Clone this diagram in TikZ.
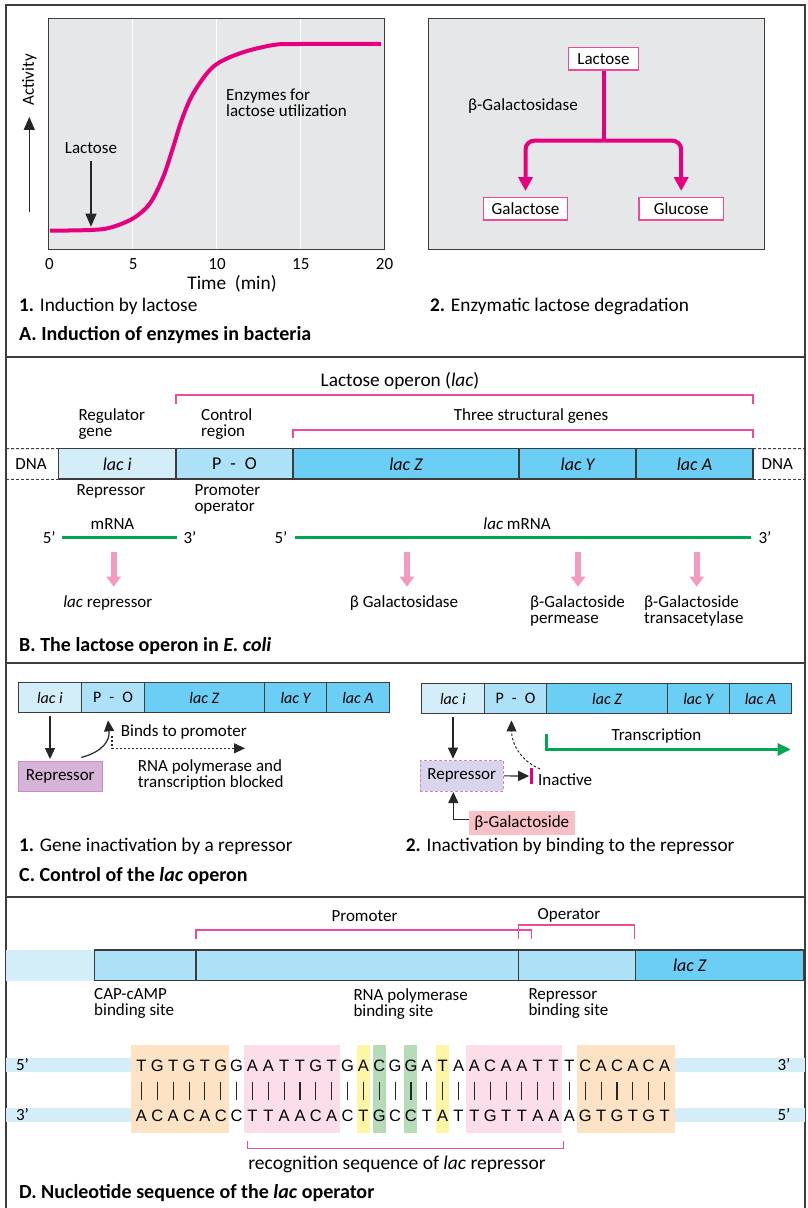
\documentclass[tikz,border=0pt]{standalone}
\usepackage{fontspec}
\setmainfont{Carlito}
\newfontfamily\seqfont{Liberation Sans}
\usetikzlibrary{positioning,calc,arrows.meta}

\definecolor{framegray}{HTML}{3C3C3C}
\definecolor{panelgray}{HTML}{E6E7E9}
\definecolor{lacmag}{HTML}{E6007E}
\definecolor{brkpink}{HTML}{EC4B9C}
\definecolor{geneI}{HTML}{D4EEF9}
\definecolor{genePO}{HTML}{ADE1F8}
\definecolor{geneS}{HTML}{6BCEF4}
\definecolor{rnagreen}{HTML}{00A651}
\definecolor{protpink}{HTML}{F49AC1}
\definecolor{repviolet}{HTML}{D5B4D7}
\definecolor{repedge}{HTML}{C88BC3}
\definecolor{replav}{HTML}{D8D4EC}
\definecolor{repdashc}{HTML}{D985B8}
\definecolor{galpink}{HTML}{F8C0C7}
\definecolor{hlorange}{HTML}{FDE3C4}
\definecolor{hlpink}{HTML}{FCDDEA}
\definecolor{hlyellow}{HTML}{FFF6A5}
\definecolor{hlgreen}{HTML}{B5DCB7}
\definecolor{bandblue}{HTML}{D4EEF9}

\newcommand\lblsize{\fontsize{17}{16}\selectfont}
\newcommand\capsize{\fontsize{19.3}{19}\selectfont}
% highlight behind the base pairs: colour, first, last, left pad, right pad
\newcommand\hlbox[5]{\fill[#1] ({141.5+15.85*(#2-1)-#4},1045) rectangle ({141.5+15.85*(#3-1)+#5},1132.7);}

\tikzset{
  lbl/.style={font=\lblsize, inner sep=1pt, align=left},
  capt/.style={font=\capsize, inner sep=0pt, anchor=west},
  head/.style={font=\fontsize{20}{20}\selectfont\bfseries, inner sep=0pt, anchor=west},
  gene/.style={draw=framegray, line width=1.2pt, outer sep=0pt, inner sep=0pt},
  geneB/.style={gene, minimum height=30.3pt, font=\fontsize{18}{18}\selectfont\itshape},
  geneC/.style={gene, minimum height=29.6pt, font=\fontsize{16}{16}\selectfont\itshape},
  geneD/.style={gene, fill=genePO, minimum height=30.7pt},
  sugar/.style={draw=brkpink, fill=white, line width=1.3pt, minimum height=22.3pt, inner sep=0pt, font=\lblsize},
  repbox/.style={draw=repedge, fill=repviolet, line width=1pt, minimum width=84pt, minimum height=30.7pt, inner sep=0pt, font=\lblsize},
  repdash/.style={repbox, draw=repdashc, fill=replav, dash pattern=on 3pt off 2pt, minimum width=83.3pt, minimum height=30.3pt},
  galbox/.style={fill=galpink, minimum width=105.7pt, minimum height=24.3pt, inner sep=0pt, font=\lblsize},
  base/.style={inner sep=0pt, text height=12pt, text depth=0pt, font=\seqfont\fontsize{16.5}{16}\selectfont},
  arrA/.style={draw=black!85, line width=1.3pt, -{Triangle[width=11pt,length=13pt]}},
  arrC/.style={draw=black!85, line width=1.2pt, -{Triangle[width=10pt,length=11pt]}},
  dotarr/.style={arrC, dash pattern=on 2pt off 2pt},
  dasharr/.style={arrC, line width=1pt, dash pattern=on 2.5pt off 2pt},
  txarr/.style={draw=rnagreen, line width=3pt, -{Triangle[width=12pt,length=13pt]}},
  rna/.style={draw=rnagreen, line width=3pt},
  prot/.style={draw=protpink, line width=6pt, -{Triangle[width=14pt,length=10pt]}},
  degr/.style={draw=lacmag, line width=4pt},
  curve/.style={draw=lacmag, line width=4pt},
  bracket/.style={draw=brkpink, line width=1.3pt},
  inhibbar/.style={draw=lacmag, line width=3pt},
  dnadash/.style={draw=framegray, line width=1pt, dash pattern=on 3pt off 2pt},
  pair/.style={draw=black!85, line width=1.1pt, shorten <=11pt, shorten >=9pt}
}

\begin{document}
\begin{tikzpicture}[x=1pt, y=-1pt]
  \useasboundingbox (0,0) rectangle (808,1208);
  \fill[white] (0,0) rectangle (808,1208);

  % Frame and section rules
  \draw[framegray, line width=2pt] (6,1208) -- (6,5) -- (805,5) -- (805,1208);
  \foreach \yy in {357,663,897} \draw[framegray, line width=2pt] (6,\yy) -- (805,\yy);

  % A1: induction curve
  \fill[panelgray] (48.3,18.3) rectangle (384.3,249.3);
  \foreach \xx in {132.7,216.7,300.7} \draw[white, line width=1.5pt] (\xx,18.3) -- (\xx,249.3);
  \draw[framegray, line width=1.4pt] (48.3,18.3) rectangle (384.3,249.3);
  \draw[curve] plot[smooth, tension=0.55] coordinates {(50,230.7) (90,230) (110,227.7) (133.3,218.3) (150,203.3) (163.3,176.7) (173.3,146.7) (181.7,120) (193.3,93.3) (213.3,66.7) (240,53.3) (273.3,45) (300,44) (381,44)};
  \foreach \v in {0,5,10,15,20} \node[lbl] (tick\v) at ({49.5+16.75*\v},264) {\v};
  \node[lbl, font=\capsize] (timeLbl) at (232,284) {Time~~(min)};
  \node[lbl, rotate=90] (actLbl) at (29.3,80) {Activity};
  \coordinate (actFoot) at (29.3,212);
  \draw[arrA] (actFoot) -- ([yshift=-10pt]actLbl.west);
  \node[lbl] (lacLbl) at (91,148.3) {Lactose};
  \draw[arrA] ([yshift=-6pt]lacLbl.south) -- (lacLbl.south |- 0,226.7);
  \node[lbl, anchor=west] (enzLbl) at (225,102.5) {Enzymes for\\lactose utilization};
  \node[capt] (capA1) at (19,306.7) {\textbf{1.} Induction by lactose};
  \node[head] (headA) at (19,335) {A. Induction of enzymes in bacteria};

  % A2: lactose cleavage
  \fill[panelgray] (428.3,18.7) rectangle (764.3,249.3);
  \draw[framegray, line width=1.4pt] (428.3,18.7) rectangle (764.3,249.3);
  \node[sugar, minimum width=70pt] (lacBox) at (603.5,58.8) {Lactose};
  \node[sugar, minimum width=84.6pt] (galBox) at (525.5,208.8) {Galactose};
  \node[sugar, minimum width=84.3pt] (gluBox) at (681.2,208.8) {Glucose};
  \node[lbl, anchor=west] (galaseLbl) at (467,106) {β-Galactosidase};
  \draw[degr] (lacBox.south) -- ++(0,70) coordinate (splitPt);
  \draw[degr, rounded corners=9pt, -{Triangle[width=14pt,length=14pt]}] (splitPt) -| ([yshift=6pt]galBox.north);
  \draw[degr, rounded corners=9pt, -{Triangle[width=14pt,length=14pt]}] (splitPt) -| ([yshift=6pt]gluBox.north);
  \node[capt] (capA2) at (430,306.7) {\textbf{2.} Enzymatic lactose degradation};

  % B: the operon
  \node[lbl, font=\capsize] (opLbl) at (400,380.7) {Lactose operon (\textit{lac})};
  \node[geneB, fill=geneI, minimum width=117.3pt] (bi) at (117.35,463.85) {lac i};
  \node[geneB, fill=genePO, minimum width=117pt, right=0pt of bi] (bpo) {\upshape P\enspace-\enspace O};
  \node[geneB, fill=geneS, minimum width=226pt, right=0pt of bpo] (bz) {lac Z};
  \node[geneB, fill=geneS, minimum width=117pt, right=0pt of bz] (by) {lac Y};
  \node[geneB, fill=geneS, minimum width=117pt, right=0pt of by] (ba) {lac A};
  \draw[dnadash] (6,448.7) -- (bi.north west);
  \draw[dnadash] (6,479) -- (bi.south west);
  \draw[dnadash] (ba.north east) -- (805,448.7);
  \draw[dnadash] (ba.south east) -- (805,479);
  \node[lbl] (dnaL) at (31,464) {DNA};
  \node[lbl] (dnaR) at (777.3,464) {DNA};
  \draw[bracket] (bpo.north west |- 0,404) |- (ba.north east |- 0,395) -- (ba.north east |- 0,404);
  \draw[bracket] (bz.north west |- 0,438) |- (ba.north east |- 0,430) -- (ba.north east |- 0,438);
  \node[lbl, anchor=west] (regLbl) at (77.3,423.7) {Regulator\\gene};
  \node[lbl, anchor=west] (ctrlLbl) at (200,423.7) {Control\\region};
  \node[lbl] (strLbl) at (531,415.7) {Three structural genes};
  \node[lbl] (repLbl) at (111,491.7) {Repressor};
  \node[lbl, anchor=west] (poLbl) at (193.3,499.7) {Promoter\\operator};
  \node[lbl] (mLbl) at (112.5,524) {mRNA};
  \node[lbl] (m5a) at (49.3,537.7) {5'};
  \node[lbl] (m3a) at (190,537.7) {3'};
  \draw[rna, shorten <=5pt, shorten >=5pt] (m5a) -- (m3a);
  \node[lbl] (lacmLbl) at (517,524) {\textit{lac} mRNA};
  \node[lbl] (m5b) at (281,537.7) {5'};
  \node[lbl] (m3b) at (765,537.7) {3'};
  \draw[rna, shorten <=6pt, shorten >=6pt] (m5b) -- (m3b);
  \foreach \px in {113.7,407,578,696.7} \draw[prot] (\px,552) -- (\px,586.7);
  \node[lbl] (lrepLbl) at (107.8,603.3) {\textit{lac} repressor};
  \node[lbl] (galLbl) at (404,603.3) {β Galactosidase};
  \node[lbl, anchor=west] (permLbl) at (529,611.3) {β-Galactoside\\permease};
  \node[lbl, anchor=west] (transLbl) at (643,611.3) {β-Galactoside\\transacetylase};
  \node[head] (headB) at (19,646) {B. The lactose operon in \textit{E. coli}};

  % C1: repressor bound
  \node[geneC, fill=geneI, minimum width=63.4pt] (cli) at (50,697.5) {lac i};
  \node[geneC, fill=genePO, minimum width=62.6pt, right=0pt of cli] (clpo) {\upshape P\enspace-\enspace O};
  \node[geneC, fill=geneS, minimum width=120pt, right=0pt of clpo] (clz) {lac Z};
  \node[geneC, fill=geneS, minimum width=62.4pt, right=0pt of clz] (cly) {lac Y};
  \node[geneC, fill=geneS, minimum width=62.6pt, right=0pt of cly] (cla) {lac A};
  \node[repbox] (clrep) at (60.3,776.35) {Repressor};
  \draw[arrC, shorten <=4pt, shorten >=1.5pt] (cli.south) -- (cli.south |- clrep.north);
  \draw[arrC] ($(clrep.north)+(21,-3)$) .. controls +(22,-6) and +(2,20) .. ($(clpo.south)+(-5,8)$);
  \node[lbl, anchor=west] (bindLbl) at (119.7,731.7) {Binds to promoter};
  \coordinate (blockStart) at ($(clpo.south)+(-1,24)$);
  \coordinate (blockEnd) at (245,748.3);
  \draw[dotarr] (blockStart) |- (blockEnd);
  \node[lbl, anchor=west] (blockLbl) at (136.7,775.3) {RNA polymerase and\\transcription blocked};
  \node[capt] (capC1) at (19,846.7) {\textbf{1.} Gene inactivation by a repressor};
  \node[head] (headC) at (19,875.7) {C. Control of the \textit{lac} operon};

  % C2: repressor inactivated
  \node[geneC, fill=geneI, minimum width=62.6pt] (cri) at (453,698.65) {lac i};
  \node[geneC, fill=genePO, minimum width=62.4pt, right=0pt of cri] (crpo) {\upshape P\enspace-\enspace O};
  \node[geneC, fill=geneS, minimum width=120.6pt, right=0pt of crpo] (crz) {lac Z};
  \node[geneC, fill=geneS, minimum width=62pt, right=0pt of crz] (cry) {lac Y};
  \node[geneC, fill=geneS, minimum width=62.4pt, right=0pt of cry] (cra) {lac A};
  \node[repdash] (crrep) at (461.7,775.85) {Repressor};
  \draw[arrC, shorten <=4pt, shorten >=1.5pt] (cri.south) -- (cri.south |- crrep.north);
  \coordinate (inhib) at (531.7,776);
  \draw[arrC] (crrep.east) -- ([xshift=-2.5pt]inhib);
  \draw[inhibbar] ([yshift=8.3pt]inhib) -- ([yshift=-8.3pt]inhib);
  \node[lbl, anchor=west] (inactLbl) at (537,780) {Inactive};
  \draw[dasharr] ($(inactLbl.north west)+(3,-4)$) .. controls +(-20,-8) and +(0,22) .. ($(crpo.south)+(-4,7)$);
  \coordinate (txStart) at ($(crz.south west)+(0,21)$);
  \coordinate (txEnd) at ($(cra.south east)+(-1,36)$);
  \draw[txarr] (txStart) |- (txEnd);
  \node[lbl] (txLbl) at (656.5,735.7) {Transcription};
  \node[galbox] (cgal) at (521.8,822.85) {β-Galactoside};
  \draw[arrC, shorten >=0.5pt] ([yshift=3.5pt]cgal.west) -| ([xshift=-8.4pt]crrep.south);
  \node[capt] (capC2) at (405.7,846.7) {\textbf{2.} Inactivation by binding to the repressor};

  % D: operator map
  \node[lbl] (promLbl) at (364.5,915.7) {Promoter};
  \node[lbl] (operLbl) at (569,915.7) {Operator};
  \fill[bandblue] (6,950) rectangle (94.3,980.7);
  \node[geneD, minimum width=101.7pt] (dcap) at (145.15,965.35) {};
  \node[geneD, minimum width=322.7pt, right=0pt of dcap] (dpol) {};
  \node[geneD, minimum width=117pt, right=0pt of dpol] (drep) {};
  \node[geneD, fill=geneS, minimum width=168.3pt, right=0pt of drep] (dz) {};
  \node[lbl, font=\fontsize{18}{18}\selectfont\itshape] (dzLbl) at ($(dz.west)+(54,0)$) {lac Z};
  \draw[bracket] (dpol.north west |- 0,938.7) |- (531.7,930) -- (531.7,938.7);
  \draw[bracket] (drep.north west |- 0,938.7) |- (634.3,925) -- (634.3,938.7);
  \node[lbl, anchor=west] (capSite) at (93,1003.7) {CAP-cAMP\\binding site};
  \node[lbl, anchor=west] (polSite) at (352.3,1003.7) {RNA polymerase\\binding site};
  \node[lbl, anchor=west] (repSite) at (527.3,1003.7) {Repressor\\binding site};

  % D: sequence
  \fill[bandblue] (6,1058.3) rectangle (131,1071.7);
  \fill[bandblue] (675,1058.3) rectangle (805,1071.7);
  \fill[bandblue] (6,1107.7) rectangle (131,1122.3);
  \fill[bandblue] (675,1107.7) rectangle (805,1122.3);
  \hlbox{hlorange}{1}{6}{10.5}{8}
  \hlbox{hlpink}{8}{13}{8}{8}
  \hlbox{hlyellow}{15}{15}{6.5}{6.5}
  \hlbox{hlgreen}{16}{16}{6.5}{6.5}
  \hlbox{hlgreen}{18}{18}{6.5}{6.5}
  \hlbox{hlyellow}{20}{20}{6.5}{6.5}
  \hlbox{hlpink}{22}{27}{8}{8}
  \hlbox{hlorange}{29}{34}{8}{10.5}
  \foreach \b [count=\i] in {T,G,T,G,T,G,G,A,A,T,T,G,T,G,A,C,G,G,A,T,A,A,C,A,A,T,T,T,C,A,C,A,C,A}
    \node[base] (s\i) at ({141.5+15.85*(\i-1)},1065) {\b};
  \foreach \b [count=\i] in {A,C,A,C,A,C,C,T,T,A,A,C,A,C,T,G,C,C,T,A,T,T,G,T,T,A,A,A,G,T,G,T,G,T}
    \node[base] (a\i) at ({141.5+15.85*(\i-1)},1115) {\b};
  \foreach \i in {1,...,34} \draw[pair] (s\i) -- (a\i);
  \node[lbl] (e5t) at (22.5,1065) {5'};
  \node[lbl] (e3b) at (22.5,1115) {3'};
  \node[lbl] (e3t) at (784,1065) {3'};
  \node[lbl] (e5b) at (784,1115) {5'};
  \draw[bracket] (247.3,1141) |- (563.3,1148.3) -- (563.3,1141);
  \node[lbl, font=\fontsize{19.5}{19}\selectfont] (recLbl) at (397,1164.3) {recognition sequence of \textit{lac} repressor};
  \node[head] (headD) at (19,1193.3) {D. Nucleotide sequence of the \textit{lac} operator};
\end{tikzpicture}
\end{document}
